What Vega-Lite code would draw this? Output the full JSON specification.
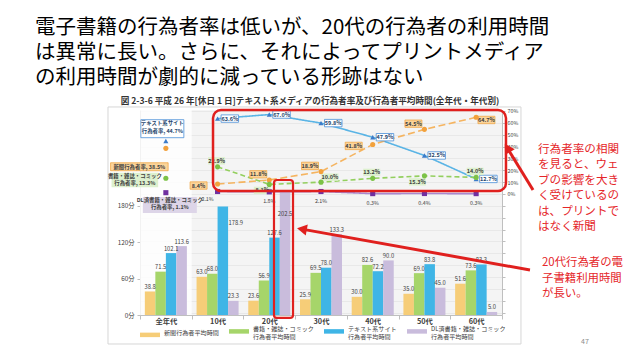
{
"$schema": "https://vega.github.io/schema/vega-lite/v6.json",
"width": 362,
"height": 205,
"autosize": {"type": "none"},
"padding": {"left": 140, "top": 110, "right": 136, "bottom": 44},
"background": "#FFFFFF",
"config": {"font": "Noto Sans CJK JP", "view": {"stroke": null, "fill": "#F4F4F4"}},
"title": {"text": ["電子書籍の行為者率は低いが、20代の行為者の利用時間", "は異常に長い。さらに、それによってプリントメディア", "の利用時間が劇的に減っている形跡はない"], "anchor": "start", "frame": "group", "dx": -105, "offset": 9, "fontSize": 20.5, "lineHeight": 24.7, "fontWeight": "normal", "color": "#000000", "font": "Noto Sans CJK JP"},
"datasets": {
"time": [
{"age": "全年代", "series": "新聞行為者平均時間", "minutes": 38.8},
{"age": "全年代", "series": "書籍・雑誌・コミック行為者平均時間", "minutes": 71.5},
{"age": "全年代", "series": "テキスト系サイト行為者平均時間", "minutes": 102.1},
{"age": "全年代", "series": "DL済書籍・雑誌・コミック行為者平均時間", "minutes": 113.6},
{"age": "10代", "series": "新聞行為者平均時間", "minutes": 63.0},
{"age": "10代", "series": "書籍・雑誌・コミック行為者平均時間", "minutes": 68.0},
{"age": "10代", "series": "テキスト系サイト行為者平均時間", "minutes": 178.9},
{"age": "10代", "series": "DL済書籍・雑誌・コミック行為者平均時間", "minutes": 23.3},
{"age": "20代", "series": "新聞行為者平均時間", "minutes": 23.6},
{"age": "20代", "series": "書籍・雑誌・コミック行為者平均時間", "minutes": 56.9},
{"age": "20代", "series": "テキスト系サイト行為者平均時間", "minutes": 127.6},
{"age": "20代", "series": "DL済書籍・雑誌・コミック行為者平均時間", "minutes": 202.5},
{"age": "30代", "series": "新聞行為者平均時間", "minutes": 25.9},
{"age": "30代", "series": "書籍・雑誌・コミック行為者平均時間", "minutes": 69.5},
{"age": "30代", "series": "テキスト系サイト行為者平均時間", "minutes": 78.0},
{"age": "30代", "series": "DL済書籍・雑誌・コミック行為者平均時間", "minutes": 133.3},
{"age": "40代", "series": "新聞行為者平均時間", "minutes": 30.0},
{"age": "40代", "series": "書籍・雑誌・コミック行為者平均時間", "minutes": 82.6},
{"age": "40代", "series": "テキスト系サイト行為者平均時間", "minutes": 72.2},
{"age": "40代", "series": "DL済書籍・雑誌・コミック行為者平均時間", "minutes": 90.0},
{"age": "50代", "series": "新聞行為者平均時間", "minutes": 35.0},
{"age": "50代", "series": "書籍・雑誌・コミック行為者平均時間", "minutes": 69.0},
{"age": "50代", "series": "テキスト系サイト行為者平均時間", "minutes": 83.8},
{"age": "50代", "series": "DL済書籍・雑誌・コミック行為者平均時間", "minutes": 45.0},
{"age": "60代", "series": "新聞行為者平均時間", "minutes": 51.6},
{"age": "60代", "series": "書籍・雑誌・コミック行為者平均時間", "minutes": 73.6},
{"age": "60代", "series": "テキスト系サイト行為者平均時間", "minutes": 83.3},
{"age": "60代", "series": "DL済書籍・雑誌・コミック行為者平均時間", "minutes": 5.0}
],
"rate": [
{"age": "全年代", "series": "テキスト系サイト", "rate": 44.7},
{"age": "全年代", "series": "新聞", "rate": 38.5},
{"age": "全年代", "series": "書籍・雑誌・コミック", "rate": 13.3},
{"age": "全年代", "series": "DL済書籍・雑誌・コミック", "rate": 1.1},
{"age": "10代", "series": "テキスト系サイト", "rate": 63.6},
{"age": "10代", "series": "新聞", "rate": 8.4},
{"age": "10代", "series": "書籍・雑誌・コミック", "rate": 22.9},
{"age": "10代", "series": "DL済書籍・雑誌・コミック", "rate": 2.1},
{"age": "20代", "series": "テキスト系サイト", "rate": 67.0},
{"age": "20代", "series": "新聞", "rate": 11.8},
{"age": "20代", "series": "書籍・雑誌・コミック", "rate": 8.1},
{"age": "20代", "series": "DL済書籍・雑誌・コミック", "rate": 1.8},
{"age": "30代", "series": "テキスト系サイト", "rate": 59.8},
{"age": "30代", "series": "新聞", "rate": 18.9},
{"age": "30代", "series": "書籍・雑誌・コミック", "rate": 10.0},
{"age": "30代", "series": "DL済書籍・雑誌・コミック", "rate": 2.1},
{"age": "40代", "series": "テキスト系サイト", "rate": 47.9},
{"age": "40代", "series": "新聞", "rate": 41.8},
{"age": "40代", "series": "書籍・雑誌・コミック", "rate": 13.2},
{"age": "40代", "series": "DL済書籍・雑誌・コミック", "rate": 0.3},
{"age": "50代", "series": "テキスト系サイト", "rate": 32.5},
{"age": "50代", "series": "新聞", "rate": 54.5},
{"age": "50代", "series": "書籍・雑誌・コミック", "rate": 15.3},
{"age": "50代", "series": "DL済書籍・雑誌・コミック", "rate": 0.4},
{"age": "60代", "series": "テキスト系サイト", "rate": 12.7},
{"age": "60代", "series": "新聞", "rate": 64.7},
{"age": "60代", "series": "書籍・雑誌・コミック", "rate": 14.0},
{"age": "60代", "series": "DL済書籍・雑誌・コミック", "rate": 0.3}
]
},
"layer": [
{
"data": {"values": [{}]},
"layer": [
{"mark": {"type": "rect", "fill": "#FFFFFF", "opacity": 0.8},
 "encoding": {"x": {"datum": 0, "type": "quantitative", "scale": {"domain": [0, 7], "nice": false, "zero": false}, "axis": null}, "x2": {"datum": 1}, "y": {"datum": 0, "type": "quantitative", "scale": {"domain": [0, 338], "nice": false, "zero": false}, "axis": null}, "y2": {"datum": 338}}},
{"mark": {"type": "rect", "fillOpacity": 0, "stroke": "#D6D6D6", "strokeWidth": 1},
 "encoding": {"x": {"datum": -0.619, "type": "quantitative", "scale": {"domain": [0, 7], "nice": false, "zero": false}, "axis": null}, "x2": {"datum": 7.367}, "y": {"datum": -47.8, "type": "quantitative", "scale": {"domain": [0, 338], "nice": false, "zero": false}, "axis": null}, "y2": {"datum": 343}}}
]
},
{
"data": {"name": "time"},
"encoding": {
 "x": {"field": "age", "type": "nominal", "sort": ["全年代", "10代", "20代", "30代", "40代", "50代", "60代"], "scale": {"domain": ["全年代", "10代", "20代", "30代", "40代", "50代", "60代"], "paddingInner": 0, "paddingOuter": 0},
  "axis": {"title": null, "labelAngle": 0, "labelFontSize": 7.3, "labelFontWeight": "bold", "labelColor": "#404040", "labelPadding": -2, "tickBand": "extent", "tickSize": 4, "tickColor": "#BFBFBF", "domainColor": "#BFBFBF"}},
 "xOffset": {"field": "series", "type": "nominal", "sort": ["新聞行為者平均時間", "書籍・雑誌・コミック行為者平均時間", "テキスト系サイト行為者平均時間", "DL済書籍・雑誌・コミック行為者平均時間"], "scale": {"domain": ["新聞行為者平均時間", "書籍・雑誌・コミック行為者平均時間", "テキスト系サイト行為者平均時間", "DL済書籍・雑誌・コミック行為者平均時間"], "paddingInner": 0, "paddingOuter": 0.46}},
 "y": {"field": "minutes", "type": "quantitative", "scale": {"domain": [0, 338], "nice": false, "zero": false},
  "axis": {"title": null, "values": [0, 60, 120, 180], "labelExpr": "datum.value + '分'", "labelFontSize": 6.3, "labelColor": "#404040", "labelPadding": 3, "tickSize": 3, "tickColor": "#BFBFBF", "domainColor": "#BFBFBF", "grid": false}}
},
"layer": [
 {"mark": {"type": "bar"},
  "encoding": {"color": {"field": "series", "type": "nominal", "sort": ["新聞行為者平均時間", "書籍・雑誌・コミック行為者平均時間", "テキスト系サイト行為者平均時間", "DL済書籍・雑誌・コミック行為者平均時間"],
   "scale": {"domain": ["新聞行為者平均時間", "書籍・雑誌・コミック行為者平均時間", "テキスト系サイト行為者平均時間", "DL済書籍・雑誌・コミック行為者平均時間"], "range": ["#F6CD78", "#A6D56A", "#3FB5E6", "#C9BCDC"]},
   "legend": {"orient": "bottom", "direction": "horizontal", "columns": 4, "title": null, "offset": 1, "padding": 0, "columnPadding": 10, "symbolType": "M-1,-0.45H3V0.45H-1Z", "symbolSize": 100, "symbolStrokeWidth": 0, "labelFontSize": 6.1, "labelColor": "#404040", "labelLimit": 200, "labelOffset": 14, "labelBaseline": "alphabetic", "labelLineHeight": 9, "labelExpr": "datum.label == '新聞行為者平均時間' ? datum.label : [replace(datum.label, '行為者平均時間', ''), '行為者平均時間']"}}}},
 {"transform": [{"filter": "!(datum.age == '20代' && datum.series == 'DL済書籍・雑誌・コミック行為者平均時間') && !(datum.age == '10代' && datum.series == 'テキスト系サイト行為者平均時間')"}],
  "mark": {"type": "text", "baseline": "bottom", "dy": -1.5, "fontSize": 5.8, "fill": "#404040"},
  "encoding": {"text": {"field": "minutes", "type": "quantitative", "format": ".1f"}}},
 {"transform": [{"filter": "datum.age == '20代' && datum.series == 'DL済書籍・雑誌・コミック行為者平均時間'"}],
  "mark": {"type": "text", "baseline": "middle", "dy": 22, "fontSize": 5.8, "fill": "#404040"},
  "encoding": {"text": {"field": "minutes", "type": "quantitative", "format": ".1f"}}},
 {"transform": [{"filter": "datum.age == '10代' && datum.series == 'テキスト系サイト行為者平均時間'"}],
  "mark": {"type": "text", "baseline": "middle", "dx": 13, "dy": 17, "fontSize": 5.8, "fill": "#404040"},
  "encoding": {"text": {"field": "minutes", "type": "quantitative", "format": ".1f"}}}
]
},
{
"data": {"name": "rate"},
"transform": [{"calculate": "format(datum.rate, '.1f') + '%'", "as": "lbl"}],
"encoding": {
 "x": {"field": "age", "type": "nominal", "sort": ["全年代", "10代", "20代", "30代", "40代", "50代", "60代"], "scale": {"domain": ["全年代", "10代", "20代", "30代", "40代", "50代", "60代"], "paddingInner": 0, "paddingOuter": 0}, "axis": null},
 "y": {"field": "rate", "type": "quantitative", "scale": {"domain": [-102.05, 70.84], "nice": false, "zero": false},
  "axis": {"orient": "right", "title": null, "values": [-100, -90, -80, -70, -60, -50, -40, -30, -20, -10, 0, 10, 20, 30, 40, 50, 60, 70], "labelExpr": "datum.value >= 0 ? datum.value + '%' : ''", "labelFontSize": 5.3, "labelColor": "#404040", "labelPadding": 2, "tickSize": 3, "tickColor": "#BFBFBF", "domainColor": "#BFBFBF", "grid": true, "gridColor": "#E2E2E2", "gridWidth": 0.7}}
},
"layer": [
 {"transform": [{"filter": "datum.age != '全年代'"}],
  "mark": {"type": "line", "strokeWidth": 1.6},
  "encoding": {"stroke": {"field": "series", "type": "nominal", "scale": {"domain": ["テキスト系サイト", "新聞", "書籍・雑誌・コミック", "DL済書籍・雑誌・コミック"], "range": ["#5AB4E5", "#F5B460", "#93CF5E", "#A987CF"]}, "legend": null},
   "strokeDash": {"field": "series", "type": "nominal", "scale": {"domain": ["テキスト系サイト", "新聞", "書籍・雑誌・コミック", "DL済書籍・雑誌・コミック"], "range": [[1, 0], [7, 3.5], [5, 3], [1, 0]]}, "legend": null},
   "detail": {"field": "series"}}},
 {"transform": [{"filter": "datum.series == 'テキスト系サイト' && datum.age != '全年代'"}],
  "mark": {"type": "point", "shape": "M3.5,-3.7H21V3.7H3.5Z", "size": 4, "filled": true, "fill": "#FFFFFF", "stroke": "#4A8FD8", "strokeWidth": 0.8, "opacity": 1}},
 {"transform": [{"filter": "datum.series == '新聞' && (datum.age == '10代' || datum.age == '40代')"}],
  "mark": {"type": "point", "shape": "M-27.5,-2.2H-10.5V5.2H-27.5Z", "size": 4, "filled": true, "fill": "#FBD49A", "stroke": "#EFA03A", "strokeWidth": 0.7, "opacity": 1}},
 {"transform": [{"filter": "datum.series == '新聞' && (datum.age == '20代' || datum.age == '30代' || datum.age == '50代')"}],
  "mark": {"type": "point", "shape": "M-19.5,-9.4H-2.5V-2H-19.5Z", "size": 4, "filled": true, "fill": "#FBD49A", "stroke": "#EFA03A", "strokeWidth": 0.7, "opacity": 1}},
 {"transform": [{"filter": "datum.series == '新聞' && datum.age == '60代'"}],
  "mark": {"type": "point", "shape": "M1.8,-1H18.8V6.4H1.8Z", "size": 4, "filled": true, "fill": "#FBD49A", "stroke": "#EFA03A", "strokeWidth": 0.7, "opacity": 1}},
 {"transform": [{"filter": "datum.series == '書籍・雑誌・コミック' && (datum.age == '10代' || datum.age == '40代' || datum.age == '60代')"}],
  "mark": {"type": "point", "shape": "M-9.5,-9.7H7.5V-2.3H-9.5Z", "size": 4, "filled": true, "fill": "#DDF0CE", "strokeWidth": 0, "opacity": 1}},
 {"transform": [{"filter": "datum.series == '書籍・雑誌・コミック' && (datum.age == '20代' || datum.age == '50代')"}],
  "mark": {"type": "point", "shape": "M-15.5,2.3H1.5V9.7H-15.5Z", "size": 4, "filled": true, "fill": "#DDF0CE", "strokeWidth": 0, "opacity": 1}},
 {"transform": [{"filter": "datum.series == '書籍・雑誌・コミック' && datum.age == '30代'"}],
  "mark": {"type": "point", "shape": "M0.5,-8.7H17.5V-1.3H0.5Z", "size": 4, "filled": true, "fill": "#DDF0CE", "strokeWidth": 0, "opacity": 1}},
 {"transform": [{"filter": "datum.series == 'テキスト系サイト' && datum.age == '全年代'"}],
  "mark": {"type": "point", "shape": "M-25,-21.3H18V-3.3H-25Z", "size": 4, "filled": true, "fill": "#FFFFFF", "stroke": "#4A8FD8", "strokeWidth": 0.8, "opacity": 1}},
 {"transform": [{"filter": "datum.series == '新聞' && datum.age == '全年代'"}],
  "mark": {"type": "point", "shape": "M-55.3,14.4H2.3V22.4H-55.3Z", "size": 4, "filled": true, "fill": "#FBD49A", "stroke": "#EFA03A", "strokeWidth": 0.7, "opacity": 1}},
 {"transform": [{"filter": "datum.series == '書籍・雑誌・コミック' && datum.age == '全年代'"}],
  "mark": {"type": "point", "shape": "M-54.3,-5.5H-7.7V9.1H-54.3Z", "size": 4, "filled": true, "fill": "#DDF0CE", "strokeWidth": 0, "opacity": 1}},
 {"transform": [{"filter": "datum.series == 'DL済書籍・雑誌・コミック' && datum.age == '全年代'"}],
  "mark": {"type": "point", "shape": "M-23,4.3H31V20.3H-23Z", "size": 4, "filled": true, "fill": "#DDD5E8", "strokeWidth": 0, "opacity": 1}},
 {"mark": {"type": "point", "filled": true, "opacity": 1, "size": 26, "strokeWidth": 0},
  "encoding": {"fill": {"field": "series", "type": "nominal", "scale": {"domain": ["テキスト系サイト", "新聞", "書籍・雑誌・コミック", "DL済書籍・雑誌・コミック"], "range": ["#3D7CC9", "#F2A13C", "#7CC247", "#7030A0"]}, "legend": null},
   "shape": {"field": "series", "type": "nominal", "scale": {"domain": ["テキスト系サイト", "新聞", "書籍・雑誌・コミック", "DL済書籍・雑誌・コミック"], "range": ["triangle-up", "circle", "circle", "square"]}, "legend": null}}},
 {"transform": [{"filter": "datum.series == 'テキスト系サイト' && datum.age != '全年代'"}],
  "mark": {"type": "text", "dx": 12.25, "dy": 0, "fontSize": 5.5, "fontWeight": "bold", "fill": "#26466D", "align": "center", "baseline": "middle"},
  "encoding": {"text": {"field": "lbl"}}},
 {"transform": [{"filter": "datum.series == '新聞' && (datum.age == '10代' || datum.age == '40代')"}],
  "mark": {"type": "text", "dx": -19, "dy": 1.5, "fontSize": 5.5, "fontWeight": "bold", "fill": "#404040", "align": "center", "baseline": "middle"},
  "encoding": {"text": {"field": "lbl"}}},
 {"transform": [{"filter": "datum.series == '新聞' && (datum.age == '20代' || datum.age == '30代' || datum.age == '50代')"}],
  "mark": {"type": "text", "dx": -11, "dy": -5.7, "fontSize": 5.5, "fontWeight": "bold", "fill": "#404040", "align": "center", "baseline": "middle"},
  "encoding": {"text": {"field": "lbl"}}},
 {"transform": [{"filter": "datum.series == '新聞' && datum.age == '60代'"}],
  "mark": {"type": "text", "dx": 10.3, "dy": 2.7, "fontSize": 5.5, "fontWeight": "bold", "fill": "#404040", "align": "center", "baseline": "middle"},
  "encoding": {"text": {"field": "lbl"}}},
 {"transform": [{"filter": "datum.series == '書籍・雑誌・コミック' && (datum.age == '10代' || datum.age == '40代' || datum.age == '60代')"}],
  "mark": {"type": "text", "dx": -1, "dy": -6, "fontSize": 5.5, "fontWeight": "bold", "fill": "#404040", "align": "center", "baseline": "middle"},
  "encoding": {"text": {"field": "lbl"}}},
 {"transform": [{"filter": "datum.series == '書籍・雑誌・コミック' && (datum.age == '20代' || datum.age == '50代')"}],
  "mark": {"type": "text", "dx": -7, "dy": 6, "fontSize": 5.5, "fontWeight": "bold", "fill": "#404040", "align": "center", "baseline": "middle"},
  "encoding": {"text": {"field": "lbl"}}},
 {"transform": [{"filter": "datum.series == '書籍・雑誌・コミック' && datum.age == '30代'"}],
  "mark": {"type": "text", "dx": 9, "dy": -5, "fontSize": 5.5, "fontWeight": "bold", "fill": "#404040", "align": "center", "baseline": "middle"},
  "encoding": {"text": {"field": "lbl"}}},
 {"transform": [{"filter": "datum.series == 'DL済書籍・雑誌・コミック' && datum.age != '全年代' && datum.age != '10代'"}],
  "mark": {"type": "text", "dx": 0, "dy": 9, "fontSize": 5.3, "fill": "#404040", "align": "center", "baseline": "middle"},
  "encoding": {"text": {"field": "lbl"}}},
 {"transform": [{"filter": "datum.series == 'DL済書籍・雑誌・コミック' && datum.age == '10代'"}],
  "mark": {"type": "text", "dx": -10, "dy": 7, "fontSize": 5.3, "fill": "#404040", "align": "center", "baseline": "middle"},
  "encoding": {"text": {"field": "lbl"}}},
 {"transform": [{"filter": "datum.series == 'テキスト系サイト' && datum.age == '全年代'"}, {"calculate": "datum.series + '\\n行為者率, ' + datum.lbl", "as": "t"}],
  "mark": {"type": "text", "dx": -3.5, "dy": -19.8, "fontSize": 5.4, "fontWeight": "bold", "fill": "#26466D", "align": "center", "baseline": "top", "lineBreak": "\n", "lineHeight": 7.5},
  "encoding": {"text": {"field": "t"}}},
 {"transform": [{"filter": "datum.series == '新聞' && datum.age == '全年代'"}, {"calculate": "datum.series + '行為者率, ' + datum.lbl", "as": "t"}],
  "mark": {"type": "text", "dx": -26.5, "dy": 18.4, "fontSize": 5.4, "fontWeight": "bold", "fill": "#404040", "align": "center", "baseline": "middle"},
  "encoding": {"text": {"field": "t"}}},
 {"transform": [{"filter": "datum.series == '書籍・雑誌・コミック' && datum.age == '全年代'"}, {"calculate": "datum.series + '\\n行為者率, ' + datum.lbl", "as": "t"}],
  "mark": {"type": "text", "dx": -31, "dy": -4.4, "fontSize": 5.4, "fontWeight": "bold", "fill": "#404040", "align": "center", "baseline": "top", "lineBreak": "\n", "lineHeight": 7},
  "encoding": {"text": {"field": "t"}}},
 {"transform": [{"filter": "datum.series == 'DL済書籍・雑誌・コミック' && datum.age == '全年代'"}, {"calculate": "datum.series + '\\n行為者率, ' + datum.lbl", "as": "t"}],
  "mark": {"type": "text", "dx": 4, "dy": 5.6, "fontSize": 5.4, "fontWeight": "bold", "fill": "#404040", "align": "center", "baseline": "top", "lineBreak": "\n", "lineHeight": 7},
  "encoding": {"text": {"field": "t"}}}
]
},
{
"data": {"values": [{}]},
"layer": [
 {"mark": {"type": "text", "text": "図 2-3-6 平成 26 年[休日 1 日]テキスト系メディアの行為者率及び行為者平均時間(全年代・年代別)", "fontSize": 8.6, "fontWeight": "bold", "fill": "#333333", "align": "center", "baseline": "middle"},
  "encoding": {"x": {"datum": 3.287, "type": "quantitative", "scale": {"domain": [0, 7], "nice": false, "zero": false}, "axis": null}, "y": {"datum": 352.8, "type": "quantitative", "scale": {"domain": [0, 338], "nice": false, "zero": false}, "axis": null}}},
 {"mark": {"type": "rect", "fillOpacity": 0, "stroke": "#E0201E", "strokeWidth": 2.5, "cornerRadius": 8},
  "encoding": {"x": {"datum": 1.412, "type": "quantitative", "scale": {"domain": [0, 7], "nice": false, "zero": false}, "axis": null}, "x2": {"datum": 7.077}, "y": {"datum": 204.5, "type": "quantitative", "scale": {"domain": [0, 338], "nice": false, "zero": false}, "axis": null}, "y2": {"datum": 338}}},
 {"mark": {"type": "rect", "fillOpacity": 0, "stroke": "#E0201E", "strokeWidth": 2.2, "cornerRadius": 3},
  "encoding": {"x": {"datum": 2.591, "type": "quantitative", "scale": {"domain": [0, 7], "nice": false, "zero": false}, "axis": null}, "x2": {"datum": 2.959}, "y": {"datum": -4.9, "type": "quantitative", "scale": {"domain": [0, 338], "nice": false, "zero": false}, "axis": null}, "y2": {"datum": 222.6}}},
 {"mark": {"type": "rule", "stroke": "#E0201E", "strokeWidth": 3},
  "encoding": {"x": {"datum": 7.6, "type": "quantitative", "scale": {"domain": [0, 7], "nice": false, "zero": false}, "axis": null}, "x2": {"datum": 7.103}, "y": {"datum": 206.1, "type": "quantitative", "scale": {"domain": [0, 338], "nice": false, "zero": false}, "axis": null}, "y2": {"datum": 275.5}}},
 {"mark": {"type": "point", "shape": "triangle-up", "angle": -31, "size": 130, "filled": true, "fill": "#E0201E", "strokeWidth": 0, "opacity": 1},
  "encoding": {"x": {"datum": 7.103, "type": "quantitative", "scale": {"domain": [0, 7], "nice": false, "zero": false}, "axis": null}, "y": {"datum": 275.5, "type": "quantitative", "scale": {"domain": [0, 338], "nice": false, "zero": false}, "axis": null}}},
 {"mark": {"type": "rule", "stroke": "#E0201E", "strokeWidth": 3},
  "encoding": {"x": {"datum": 7.541, "type": "quantitative", "scale": {"domain": [0, 7], "nice": false, "zero": false}, "axis": null}, "x2": {"datum": 3.131}, "y": {"datum": 74.2, "type": "quantitative", "scale": {"domain": [0, 338], "nice": false, "zero": false}, "axis": null}, "y2": {"datum": 141.6}}},
 {"mark": {"type": "point", "shape": "triangle-left", "angle": 10.2, "size": 130, "filled": true, "fill": "#E0201E", "strokeWidth": 0, "opacity": 1},
  "encoding": {"x": {"datum": 3.131, "type": "quantitative", "scale": {"domain": [0, 7], "nice": false, "zero": false}, "axis": null}, "y": {"datum": 141.6, "type": "quantitative", "scale": {"domain": [0, 338], "nice": false, "zero": false}, "axis": null}}},
 {"mark": {"type": "text", "text": ["行為者率の相関", "を見ると、ウェ", "ブの影響を大き", "く受けているの", "は、プリントで", "はなく新聞"], "fontSize": 11.6, "lineHeight": 15.5, "fill": "#E5262A", "align": "left", "baseline": "top"},
  "encoding": {"x": {"datum": 7.696, "type": "quantitative", "scale": {"domain": [0, 7], "nice": false, "zero": false}, "axis": null}, "y": {"datum": 282, "type": "quantitative", "scale": {"domain": [0, 338], "nice": false, "zero": false}, "axis": null}}},
 {"mark": {"type": "text", "text": ["20代行為者の電", "子書籍利用時間", "が長い。"], "fontSize": 11.4, "lineHeight": 15.5, "fill": "#E5262A", "align": "left", "baseline": "top"},
  "encoding": {"x": {"datum": 7.774, "type": "quantitative", "scale": {"domain": [0, 7], "nice": false, "zero": false}, "axis": null}, "y": {"datum": 95, "type": "quantitative", "scale": {"domain": [0, 338], "nice": false, "zero": false}, "axis": null}}},
 {"mark": {"type": "text", "text": "47", "fontSize": 7, "fill": "#8C8C8C", "align": "center", "baseline": "middle"},
  "encoding": {"x": {"datum": 8.605, "type": "quantitative", "scale": {"domain": [0, 7], "nice": false, "zero": false}, "axis": null}, "y": {"datum": -44.5, "type": "quantitative", "scale": {"domain": [0, 338], "nice": false, "zero": false}, "axis": null}}}
]
}
],
"resolve": {"scale": {"x": "independent", "y": "independent"}}
}
